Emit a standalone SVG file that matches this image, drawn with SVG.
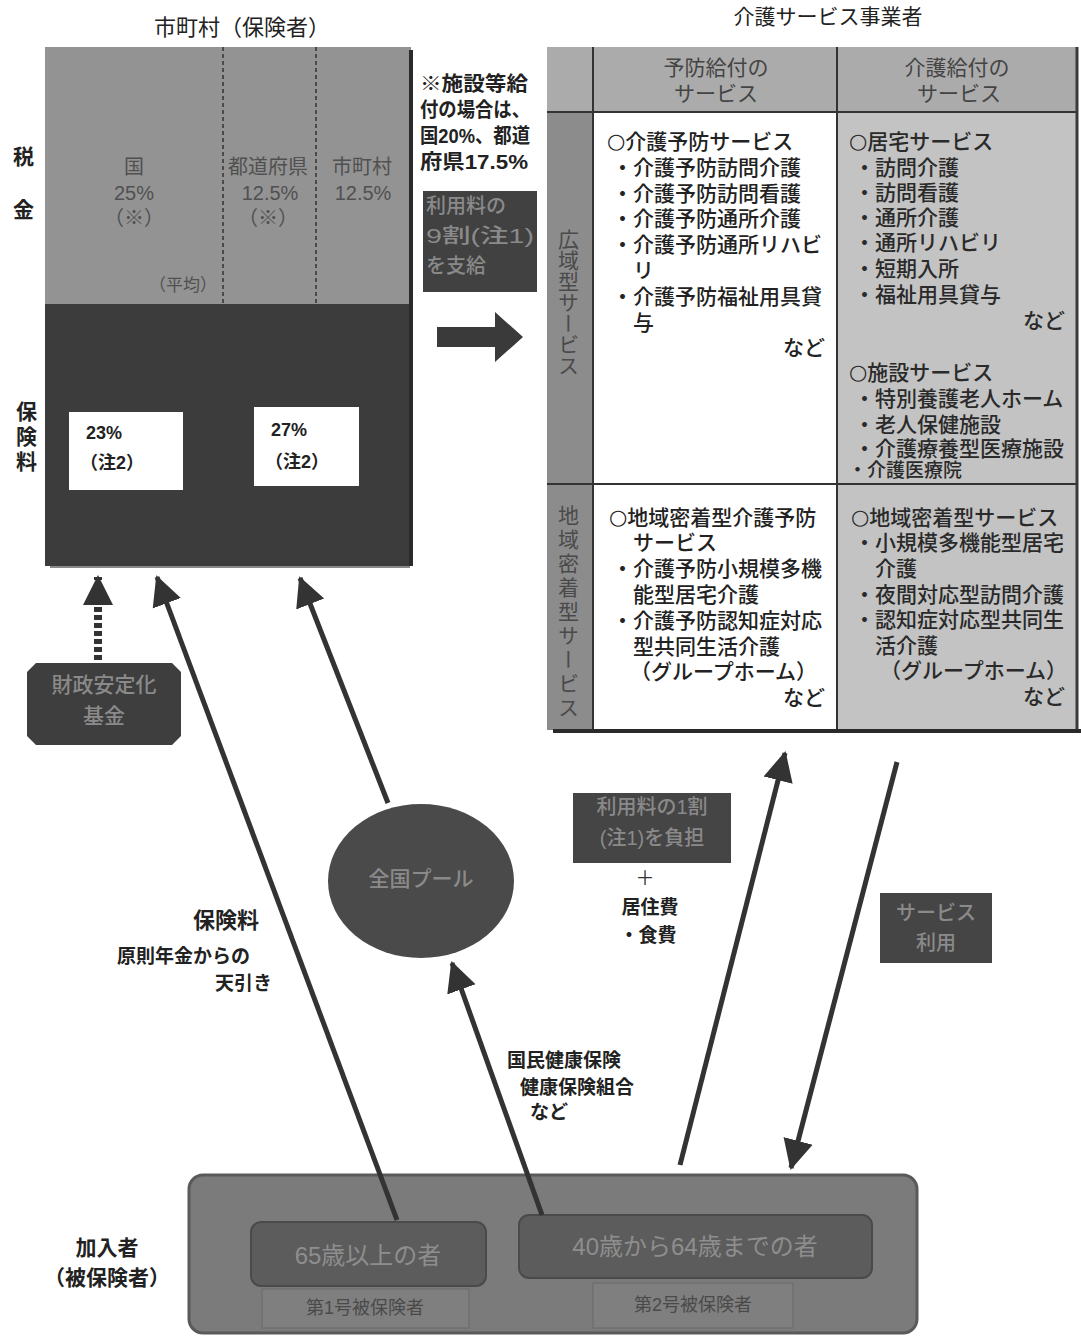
<svg xmlns="http://www.w3.org/2000/svg" width="1081" height="1337" viewBox="0 0 1081 1337">
<style>
text{font-family:"Liberation Sans","Noto Sans CJK JP",sans-serif;dominant-baseline:central}
.t{font-size:21px;fill:#222;font-weight:500}
.tg{font-size:21px;fill:#2a2a2a;font-weight:500}
.b{font-weight:700;fill:#222}
.faint{fill:#8a8a8a;font-weight:500}
.gtx{font-size:20px;fill:#505050}
.ln{stroke:#333;stroke-width:5;fill:none}
.c{font-family:"DejaVu Sans","Noto Sans CJK JP",sans-serif;font-size:21px}
</style>
<defs>
<marker id="ah" markerUnits="userSpaceOnUse" markerWidth="32" markerHeight="32" refX="28" refY="16" orient="auto">
<path d="M0,1 L30,16 L0,31 z" fill="#333"/>
</marker>
</defs>
<rect width="1081" height="1337" fill="#ffffff"/>

<text x="242" y="27" style="font-size:22px;fill:#222" text-anchor="middle">市町村（保険者）</text>
<text x="828" y="16" style="font-size:21px;fill:#222" text-anchor="middle">介護サービス事業者</text>

<g id="insurer">
<rect x="45" y="47" width="366" height="258" fill="#939393"/>
<rect x="45" y="304" width="366" height="262" fill="#3c3c3c"/>
<line x1="411" y1="50" x2="411" y2="566" stroke="#2a2a2a" stroke-width="4"/>
<line x1="50" y1="567" x2="410" y2="567" stroke="#8a8a8a" stroke-width="2"/>
<line x1="223" y1="47" x2="223" y2="304" stroke="#333" stroke-width="1.5" stroke-dasharray="4 3"/>
<line x1="316" y1="47" x2="316" y2="304" stroke="#333" stroke-width="1.5" stroke-dasharray="4 3"/>
<text class="gtx" text-anchor="middle"><tspan x="134" y="167">国</tspan><tspan x="134" y="193">25%</tspan><tspan x="134" y="218">（※）</tspan></text>
<text class="gtx" text-anchor="middle"><tspan x="268" y="167">都道府県</tspan><tspan x="270" y="193">12.5%</tspan><tspan x="268" y="218">（※）</tspan></text>
<text class="gtx" text-anchor="middle"><tspan x="362" y="167">市町村</tspan><tspan x="363" y="193">12.5%</tspan></text>
<text x="183" y="285" style="font-size:17px;fill:#505050" text-anchor="middle">（平均）</text>
<rect x="69" y="412" width="114" height="78" fill="#ffffff"/>
<rect x="254" y="407" width="105" height="79" fill="#ffffff"/>
<text class="b" style="font-size:18px"><tspan x="86" y="433">23%</tspan><tspan x="80" y="463">（注2）</tspan></text>
<text class="b" style="font-size:18px"><tspan x="271" y="430">27%</tspan><tspan x="265" y="462">（注2）</tspan></text>
</g>

<g id="side-labels">
<text x="22" y="146" class="b" style="font-size:21px;writing-mode:vertical-rl;letter-spacing:32px">税金</text>
<text x="25" y="401" class="b" style="font-size:21px;writing-mode:vertical-rl;letter-spacing:4px">保険料</text>
</g>

<g id="note">
<text class="b" style="font-size:20px"><tspan x="420" y="84" textLength="108" lengthAdjust="spacingAndGlyphs">※施設等給</tspan><tspan x="420" y="110" textLength="110" lengthAdjust="spacingAndGlyphs">付の場合は、</tspan><tspan x="420" y="136" textLength="110" lengthAdjust="spacingAndGlyphs">国20%、都道</tspan><tspan x="420" y="162" textLength="108" lengthAdjust="spacingAndGlyphs">府県17.5%</tspan></text>
</g>

<g id="pay90">
<rect x="423" y="191" width="114" height="101" fill="#414141"/>
<text class="faint" style="font-size:20px"><tspan x="426" y="206">利用料の</tspan><tspan x="426" y="236" textLength="108" lengthAdjust="spacingAndGlyphs">9割(注1)</tspan><tspan x="426" y="266">を支給</tspan></text>
</g>

<g id="big-arrow">
<polygon points="437,327 495,327 495,312 523,337 495,362 495,347 437,347" fill="#3a3a3a"/>
</g>

<g id="providers">
<rect x="547" y="47" width="531" height="65" fill="#ababab"/>
<rect x="547" y="112" width="46" height="618" fill="#8c8c8c"/>
<rect x="593" y="112" width="244" height="618" fill="#ffffff"/>
<rect x="837" y="112" width="241" height="618" fill="#c3c3c3"/>
<line x1="593" y1="47" x2="593" y2="730" stroke="#333" stroke-width="2"/>
<line x1="837" y1="47" x2="837" y2="730" stroke="#333" stroke-width="2"/>
<line x1="547" y1="112" x2="1078" y2="112" stroke="#333" stroke-width="2"/>
<line x1="547" y1="484" x2="1078" y2="484" stroke="#333" stroke-width="2"/>
<line x1="1077" y1="47" x2="1077" y2="730" stroke="#3a3a3a" stroke-width="3"/>
<line x1="553" y1="731" x2="1081" y2="731" stroke="#2a2a2a" stroke-width="4"/>
<text style="font-size:21px;fill:#444" text-anchor="middle"><tspan x="716" y="67">予防給付の</tspan><tspan x="716" y="93">サービス</tspan></text>
<text style="font-size:21px;fill:#444" text-anchor="middle"><tspan x="957" y="67">介護給付の</tspan><tspan x="959" y="93">サービス</tspan></text>
<text x="567" y="229" style="font-size:21px;fill:#4a4a4a;writing-mode:vertical-rl">広域型サービス</text>
<text x="567" y="505" style="font-size:21px;fill:#4a4a4a;writing-mode:vertical-rl;letter-spacing:3px">地域密着型サービス</text>

<text class="t"><tspan x="607" y="141"><tspan class="c">○</tspan>介護予防サービス</tspan><tspan x="612" y="167">・介護予防訪問介護</tspan><tspan x="612" y="193">・介護予防訪問看護</tspan><tspan x="612" y="218">・介護予防通所介護</tspan><tspan x="612" y="244">・介護予防通所リハビ</tspan><tspan x="633" y="270">リ</tspan><tspan x="612" y="296">・介護予防福祉用具貸</tspan><tspan x="633" y="322">与</tspan><tspan x="783" y="347">など</tspan></text>

<text class="tg"><tspan x="849" y="141"><tspan class="c">○</tspan>居宅サービス</tspan><tspan x="854" y="167">・訪問介護</tspan><tspan x="854" y="192">・訪問看護</tspan><tspan x="854" y="217">・通所介護</tspan><tspan x="854" y="242">・通所リハビリ</tspan><tspan x="854" y="268">・短期入所</tspan><tspan x="854" y="294">・福祉用具貸与</tspan><tspan x="1023" y="320">など</tspan></text>
<text class="tg"><tspan x="849" y="372"><tspan class="c">○</tspan>施設サービス</tspan><tspan x="854" y="398">・特別養護老人ホーム</tspan><tspan x="854" y="424">・老人保健施設</tspan><tspan x="854" y="448">・介護療養型医療施設</tspan><tspan x="848" y="470" style="font-size:19px">・介護医療院</tspan></text>

<text class="t"><tspan x="609" y="517"><tspan class="c">○</tspan>地域密着型介護予防</tspan><tspan x="633" y="542">サービス</tspan><tspan x="612" y="568">・介護予防小規模多機</tspan><tspan x="633" y="594">能型居宅介護</tspan><tspan x="612" y="620">・介護予防認知症対応</tspan><tspan x="633" y="646">型共同生活介護</tspan><tspan x="630" y="671">（グループホーム）</tspan><tspan x="783" y="697">など</tspan></text>

<text class="tg"><tspan x="851" y="517"><tspan class="c">○</tspan>地域密着型サービス</tspan><tspan x="854" y="542">・小規模多機能型居宅</tspan><tspan x="875" y="568">介護</tspan><tspan x="854" y="594">・夜間対応型訪問介護</tspan><tspan x="854" y="619">・認知症対応型共同生</tspan><tspan x="875" y="645">活介護</tspan><tspan x="880" y="670">（グループホーム）</tspan><tspan x="1023" y="696">など</tspan></text>
</g>

<g id="fund">
<path d="M36,663 H172 L181,672 V736 L172,745 H36 L27,736 V672 Z" fill="#3e3e3e"/>
<text class="faint" style="font-size:21px" text-anchor="middle"><tspan x="104" y="684">財政安定化</tspan><tspan x="104" y="715">基金</tspan></text>
</g>

<g id="pool">
<ellipse cx="421" cy="881" rx="93" ry="77" fill="#4a4a4a"/>
<text x="421" y="878" class="faint" style="font-size:21px" text-anchor="middle">全国プール</text>
</g>

<g id="pay10">
<rect x="573" y="793" width="158" height="70" fill="#454545"/>
<text class="faint" style="font-size:20px" text-anchor="middle"><tspan x="652" y="807">利用料の1割</tspan><tspan x="652" y="838">(注1)を負担</tspan></text>
<text class="b" style="font-size:19px" text-anchor="middle"><tspan x="645" y="878" style="font-weight:400;fill:#333">＋</tspan><tspan x="650" y="907">居住費</tspan><tspan x="648" y="935">・食費</tspan></text>
</g>

<g id="service-use">
<rect x="880" y="893" width="112" height="70" fill="#454545"/>
<text class="faint" style="font-size:20px" text-anchor="middle"><tspan x="936" y="913">サービス</tspan><tspan x="936" y="943">利用</tspan></text>
</g>

<g id="labels">
<text x="226" y="920" class="b" style="font-size:22px" text-anchor="middle">保険料</text>
<text class="b" style="font-size:19px"><tspan x="117" y="956">原則年金からの</tspan><tspan x="215" y="983">天引き</tspan></text>
<text class="b" style="font-size:19px"><tspan x="507" y="1060">国民健康保険</tspan><tspan x="520" y="1087">健康保険組合</tspan><tspan x="530" y="1112">など</tspan></text>
<text class="b" style="font-size:21px" text-anchor="middle"><tspan x="107" y="1247">加入者</tspan><tspan x="107" y="1277">（被保険者）</tspan></text>
</g>

<g id="members">
<rect x="189" y="1175" width="728" height="158" rx="14" fill="#7b7b7b" stroke="#5a5a5a" stroke-width="3"/>
<rect x="251" y="1222" width="235" height="64" rx="10" fill="#5c5c5c" stroke="#4a4a4a" stroke-width="2"/>
<rect x="519" y="1215" width="353" height="63" rx="10" fill="#5c5c5c" stroke="#4a4a4a" stroke-width="2"/>
<rect x="262" y="1289" width="207" height="39" fill="#7f7f7f" stroke="#6a6a6a" stroke-width="1"/>
<rect x="593" y="1283" width="200" height="45" fill="#7f7f7f" stroke="#6a6a6a" stroke-width="1"/>
<text x="368" y="1255" style="font-size:24px;fill:#8e8e8e" text-anchor="middle">65歳以上の者</text>
<text x="695" y="1246" style="font-size:24px;fill:#8e8e8e" text-anchor="middle">40歳から64歳までの者</text>
<text x="365" y="1308" style="font-size:18px;fill:#4a4a4a" text-anchor="middle">第1号被保険者</text>
<text x="693" y="1305" style="font-size:18px;fill:#4a4a4a" text-anchor="middle">第2号被保険者</text>
</g>

<g id="connectors">
<line x1="98" y1="660" x2="98" y2="577" stroke="#333" stroke-width="8" stroke-dasharray="5 3" marker-end="url(#ah)"/>
<line x1="397" y1="1220" x2="157" y2="577" class="ln" marker-end="url(#ah)"/>
<line x1="388" y1="803" x2="300" y2="578" class="ln" marker-end="url(#ah)"/>
<line x1="542" y1="1215" x2="452" y2="963" class="ln" marker-end="url(#ah)"/>
<line x1="680" y1="1165" x2="785" y2="753" class="ln" marker-end="url(#ah)"/>
<line x1="897" y1="762" x2="791" y2="1168" class="ln" marker-end="url(#ah)"/>
</g>
</svg>
